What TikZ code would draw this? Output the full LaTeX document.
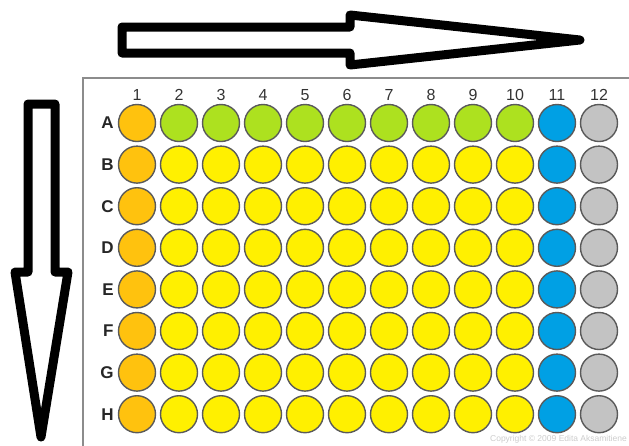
\documentclass[tikz,border=0pt]{standalone}
\usepackage{fontspec}
\setmainfont{Liberation Sans}
\usetikzlibrary{positioning}
\definecolor{wellorange}{HTML}{FFC20E}
\definecolor{wellgreen}{HTML}{ADE11F}
\definecolor{wellyellow}{HTML}{FFF000}
\definecolor{wellblue}{HTML}{00A0E4}
\definecolor{wellgray}{HTML}{C3C3C3}
\definecolor{rimgray}{HTML}{5A5A5A}
\definecolor{plategray}{HTML}{8C8C8C}

\begin{document}
\begin{tikzpicture}[
  x=1pt, y=-1pt,
  well/.style={circle, draw=rimgray, line width=1.4pt, inner sep=0pt,
               minimum size=37pt},
  bigarrow/.style={draw=black, line width=9pt, line join=round, fill=white},
  collbl/.style={font=\fontsize{16}{16}\selectfont, text=black!80, inner sep=1pt},
  rowlbl/.style={font=\fontsize{17}{17}\selectfont\bfseries, text=black!85, inner sep=1pt},
  note/.style={font=\fontsize{8.5}{8.5}\selectfont, text=black!20, inner sep=0pt},
]
\useasboundingbox (0,0) rectangle (629,445);
\clip (0,0) rectangle (629,445);

%% Plate outline
\draw[plategray, line width=2pt] (83,78) rectangle (660,470);

%% Wells
\foreach \r/\i in {A/0,B/1,C/2,D/3,E/4,F/5,G/6,H/7}{
  \foreach \c in {1,...,12}{
    \ifnum\c=1 \def\wc{wellorange}\else
    \ifnum\c=11 \def\wc{wellblue}\else
    \ifnum\c=12 \def\wc{wellgray}\else
    \ifnum\i=0 \def\wc{wellgreen}\else \def\wc{wellyellow}\fi\fi\fi\fi
    \node[well, fill=\wc] (well-\r-\c) at ({137+42*(\c-1)}, {123+41.6*\i}) {};
  }
  \node[rowlbl, left=3pt of well-\r-1] (row-\r) {\r};
}

%% Column numbers
\foreach \c in {1,...,12}
  \node[collbl, above=2pt of well-A-\c] (col-\c) {\c};

%% Copyright line
\node[note, anchor=east] (copy) at (627,439) {Copyright © 2009 Edita Aksamitiene};

%% Direction arrows
\draw[bigarrow] (122,27) -- (350,27) -- (350,15) -- (580,40)
  -- (350,65) -- (350,53) -- (122,53) -- cycle;
\draw[bigarrow] (28,104) -- (55,104) -- (55,272) -- (68,272)
  -- (41,437) -- (15,272) -- (28,272) -- cycle;

\end{tikzpicture}
\end{document}
